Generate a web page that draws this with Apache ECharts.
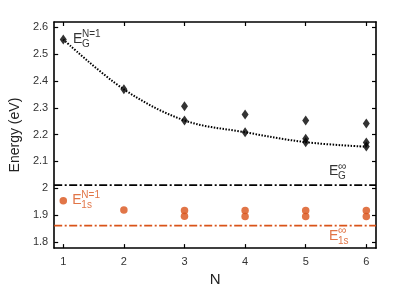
<!DOCTYPE html>
<html><head><meta charset="utf-8">
<script src="https://cdn.jsdelivr.net/npm/echarts@6/dist/echarts.min.js"></script>
<style>html,body{margin:0;padding:0;background:#fff}#c{width:415px;height:292px}</style>
</head><body><div id="c"></div>
<script>
const xTicks = [1, 2, 3, 4, 5, 6];
const yTicks = [1.8, 1.9, 2.0, 2.1, 2.2, 2.3, 2.4, 2.5, 2.6];
// black diamonds: [N, energy]
const gapPoints = [[1,2.555],[2,2.369],[3,2.306],[3,2.253],[4,2.275],[4,2.209],[5,2.253],[5,2.185],[5,2.172],[6,2.242],[6,2.171],[6,2.156]];
// fitted curve (lowest gap values)
const gapFit = [[1,2.555],[2,2.369],[3,2.253],[4,2.209],[5,2.172],[6,2.155]];
// orange circles
const excPoints = [[1,1.954],[2,1.919],[3,1.917],[3,1.896],[4,1.917],[4,1.895],[5,1.917],[5,1.895],[6,1.917],[6,1.895]];
const gapInf = 2.012;
const excInf = 1.861;
const xRange = [0.85, 6.16];
const yRange = [1.777, 2.62];
// annotations: [x, y, sup, sub, color]
const annots = [
  [1.16, 2.555, 'N=1', 'G', '#000'],
  [5.385, 2.063, '∞', 'G', '#000'],
  [1.15, 1.956, 'N=1', '1s', '#d95319'],
  [5.385, 1.823, '∞', '1s', '#d95319']
];

const FONT = 'Liberation Sans';
const black = '#000';
const orange = '#d95319';
const annotData = [];
annots.forEach(a => {
  annotData.push({value:[a[0],a[1]], label:{formatter:'E', fontSize:14, color:a[4], offset:[0,0]}});
  annotData.push({value:[a[0],a[1]], label:{formatter:a[2], fontSize:a[2]==='∞'?12:10, color:a[4], offset:[9,-5]}});
  annotData.push({value:[a[0],a[1]], label:{formatter:a[3], fontSize:10, color:a[4], offset:[9,5]}});
});

const chart = echarts.init(document.getElementById('c'));
const axisLine = {show:true, lineStyle:{color:'#000', width:1.6}};
chart.setOption({
  animation:false,
  textStyle:{fontFamily:FONT},
  grid:{left:54, right:39, top:22, bottom:36},
  xAxis:[{
    type:'value', min:xRange[0], max:xRange[1], position:'bottom',
    name:'N', nameLocation:'middle', nameGap:22, nameTextStyle:{fontSize:15, color:'#222', fontFamily:FONT},
    axisLine, splitLine:{show:false},
    axisTick:{show:true, inside:true, length:4, customValues:xTicks, lineStyle:{color:'#000', width:1.2}},
    axisLabel:{customValues:xTicks, fontSize:11, color:'#333', margin:8, fontFamily:FONT}
  },{
    type:'value', min:xRange[0], max:xRange[1], position:'top',
    axisLine, splitLine:{show:false},
    axisTick:{show:true, inside:true, length:4, customValues:xTicks, lineStyle:{color:'#000', width:1.2}},
    axisLabel:{show:false}
  }],
  yAxis:[{
    type:'value', min:yRange[0], max:yRange[1], position:'left',
    name:'Energy (eV)', nameLocation:'middle', nameGap:31, nameTextStyle:{fontSize:14, color:'#222', fontFamily:FONT},
    axisLine, splitLine:{show:false},
    axisTick:{show:true, inside:true, length:4, customValues:yTicks, lineStyle:{color:'#000', width:1.2}},
    axisLabel:{customValues:yTicks, fontSize:11, color:'#333', margin:6, fontFamily:FONT,
      formatter:v => String(+(+v).toFixed(1))}
  },{
    type:'value', min:yRange[0], max:yRange[1], position:'right',
    axisLine, splitLine:{show:false},
    axisTick:{show:true, inside:true, length:4, customValues:yTicks, lineStyle:{color:'#000', width:1.2}},
    axisLabel:{show:false}
  }],
  series:[
    {type:'line', data:gapFit, smooth:0.35, symbol:'none', lineStyle:{color:black, width:2, type:[1.5,1.5]}, z:2},
    {type:'line', data:[[xRange[0],gapInf],[xRange[1],gapInf]], symbol:'none', lineStyle:{color:black, width:1.7, type:[8,2.5,2,2.5]}},
    {type:'line', data:[[xRange[0],excInf],[xRange[1],excInf]], symbol:'none', lineStyle:{color:orange, width:1.7, type:[8,2.5,2,2.5]}},
    {type:'scatter', data:gapPoints, symbol:'diamond', symbolSize:[7,10], itemStyle:{color:black}, z:3},
    {type:'scatter', data:excPoints, symbol:'circle', symbolSize:7.5, itemStyle:{color:orange}, z:3},
    {type:'scatter', data:annotData, symbolSize:0, silent:true, z:5,
      label:{show:true, position:'inside', align:'left', verticalAlign:'middle', fontFamily:FONT}}
  ]
});
</script></body></html>
